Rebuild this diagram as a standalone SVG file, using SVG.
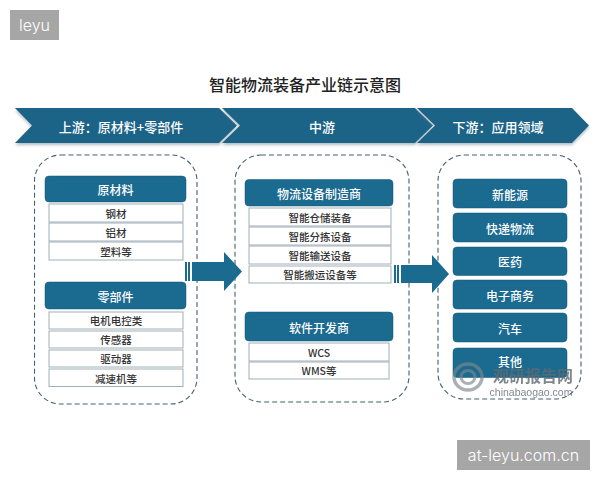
<svg xmlns="http://www.w3.org/2000/svg" width="600" height="480" viewBox="0 0 600 480">
<style>
text{font-family:"Noto Sans CJK SC","Liberation Sans",sans-serif;text-anchor:middle;dominant-baseline:central}
.chev{fill:#1b6488;filter:url(#sh)}
.band{fill:#fff;font-size:13px;font-weight:500}
.dash{fill:none;stroke:#44606e;stroke-width:1.1;stroke-dasharray:5 3}
.hd{fill:#1b6a90;stroke:#15577a;stroke-width:.5}
.hdt{fill:#fff;font-size:12px;font-weight:500}
.it{fill:#fff;stroke:#9fb0b8;stroke-width:1}
.itt{fill:#333;font-size:10.500px;font-weight:500}
.arrow{fill:#1b6a90}
.wm{fill:#5f6a70;opacity:.8}
.tag{fill:#a6a6a6}
.tagt{fill:#fff;font-family:"Inter","Liberation Sans",sans-serif;font-weight:300}
</style>
<defs>
<filter id="sh" x="-5%" y="-20%" width="110%" height="150%"><feDropShadow dx="0" dy="2" stdDeviation="1.5" flood-color="#7f8f98" flood-opacity=".6"/></filter>
</defs>
<rect width="600" height="480" fill="#fff"/>
<g id="tag-top"><rect class="tag" x="10" y="10" width="49" height="30"/><text class="tagt" x="34.500" y="24.500" font-size="16">leyu</text></g>
<text id="title" x="305" y="84" font-size="16" font-weight="500" fill="#222">智能物流装备产业链示意图</text>

<g id="band-up"><polygon class="chev" points="15,108 219,108 237,125.500 219,143 15,143 32,125.500"/><text class="band" x="121" y="126">上游：原材料+零部件</text></g>
<g id="band-mid"><polygon class="chev" points="222,108 415,108 433,125.500 415,143 222,143 240,125.500"/><text class="band" x="322" y="126">中游</text></g>
<g id="band-down"><polygon class="chev" points="417,108 572,108 589,125.500 572,143 417,143 435,125.500"/><text class="band" x="498" y="126">下游：应用领域</text></g>

<rect id="group-up" class="dash" x="34.500" y="155" width="162.500" height="249" rx="26"/>
<rect id="group-mid" class="dash" x="235" y="155" width="174" height="247" rx="26"/>
<rect id="group-down" class="dash" x="438" y="155" width="143" height="244" rx="26"/>

<g id="raw"><rect class="hd" x="45" y="176" width="141" height="26" rx="4"/><text class="hdt" x="115.500" y="189">原材料</text></g>
<g id="raw-1"><rect class="it" x="49" y="204" width="134" height="18"/><text class="itt" x="116" y="213">钢材</text></g>
<g id="raw-2"><rect class="it" x="49" y="223" width="134" height="18"/><text class="itt" x="116" y="232">铝材</text></g>
<g id="raw-3"><rect class="it" x="49" y="242" width="134" height="18"/><text class="itt" x="116" y="251">塑料等</text></g>

<g id="parts"><rect class="hd" x="45" y="282" width="141" height="27" rx="4"/><text class="hdt" x="115.500" y="296">零部件</text></g>
<g id="parts-1"><rect class="it" x="49" y="312" width="134" height="17"/><text class="itt" x="116" y="320.500">电机电控类</text></g>
<g id="parts-2"><rect class="it" x="49" y="331" width="134" height="17"/><text class="itt" x="116" y="339.500">传感器</text></g>
<g id="parts-3"><rect class="it" x="49" y="350" width="134" height="17"/><text class="itt" x="116" y="358.500">驱动器</text></g>
<g id="parts-4"><rect class="it" x="49" y="369" width="134" height="17.500"/><text class="itt" x="116" y="378">减速机等</text></g>

<g id="mfr"><rect class="hd" x="245" y="179.500" width="148" height="26.500" rx="4"/><text class="hdt" x="319" y="193">物流设备制造商</text></g>
<g id="mfr-1"><rect class="it" x="249" y="208" width="142" height="18"/><text class="itt" x="320" y="217">智能仓储装备</text></g>
<g id="mfr-2"><rect class="it" x="249" y="227" width="142" height="18"/><text class="itt" x="320" y="236">智能分拣设备</text></g>
<g id="mfr-3"><rect class="it" x="249" y="246" width="142" height="18"/><text class="itt" x="320" y="255">智能输送设备</text></g>
<g id="mfr-4"><rect class="it" x="249" y="266" width="142" height="17"/><text class="itt" x="320" y="274.500">智能搬运设备等</text></g>

<g id="soft"><rect class="hd" x="245" y="312" width="148" height="29" rx="4"/><text class="hdt" x="319" y="327">软件开发商</text></g>
<g id="soft-1"><rect class="it" x="249" y="343" width="140" height="18"/><text class="itt" x="319" y="352">WCS</text></g>
<g id="soft-2"><rect class="it" x="249" y="362" width="140" height="17"/><text class="itt" x="319" y="370.500">WMS等</text></g>

<g id="app-1"><rect class="hd" x="453" y="179" width="114" height="29" rx="4"/><text class="hdt" x="510" y="194">新能源</text></g>
<g id="app-2"><rect class="hd" x="453" y="213" width="114" height="29" rx="4"/><text class="hdt" x="510" y="228">快递物流</text></g>
<g id="app-3"><rect class="hd" x="453" y="247" width="114" height="28.500" rx="4"/><text class="hdt" x="510" y="261">医药</text></g>
<g id="app-4"><rect class="hd" x="453" y="280" width="114" height="29" rx="4"/><text class="hdt" x="510" y="295">电子商务</text></g>
<g id="app-5"><rect class="hd" x="453" y="313" width="114" height="29" rx="4"/><text class="hdt" x="510" y="328">汽车</text></g>
<g id="app-6"><rect class="hd" x="453" y="348" width="114" height="29.500" rx="4"/><text class="hdt" x="510" y="361">其他</text></g>

<g id="connectors">
<rect class="arrow" x="185" y="262" width="2" height="19"/><rect class="arrow" x="188" y="262" width="2" height="19"/>
<polygon class="arrow" points="192,262 224,262 224,252 242,271.500 224,291 224,281 192,281"/>
<rect class="arrow" x="394" y="265" width="2" height="18"/><rect class="arrow" x="397" y="265" width="2" height="18"/>
<polygon class="arrow" points="401,265 432,265 432,255 449,274 432,293 432,283 401,283"/>
</g>

<g id="watermark">
<ellipse cx="468" cy="377" rx="14" ry="13" fill="none" stroke="#7d878c" stroke-width="3.500" opacity=".65"/>
<ellipse cx="468" cy="377" rx="7" ry="6.500" fill="none" stroke="#7d878c" stroke-width="3" opacity=".65"/>
<text class="wm" x="533" y="375" font-size="16" font-weight="700">观研报告网</text>
<text class="wm" x="531" y="392" font-size="10.500" style="font-family:'Liberation Sans',sans-serif">chinabaogao.com</text>
</g>
<g id="tag-bottom"><rect class="tag" x="457" y="440" width="133" height="30"/><text class="tagt" x="523.500" y="454.500" font-size="16">at-leyu.com.cn</text></g>
</svg>
